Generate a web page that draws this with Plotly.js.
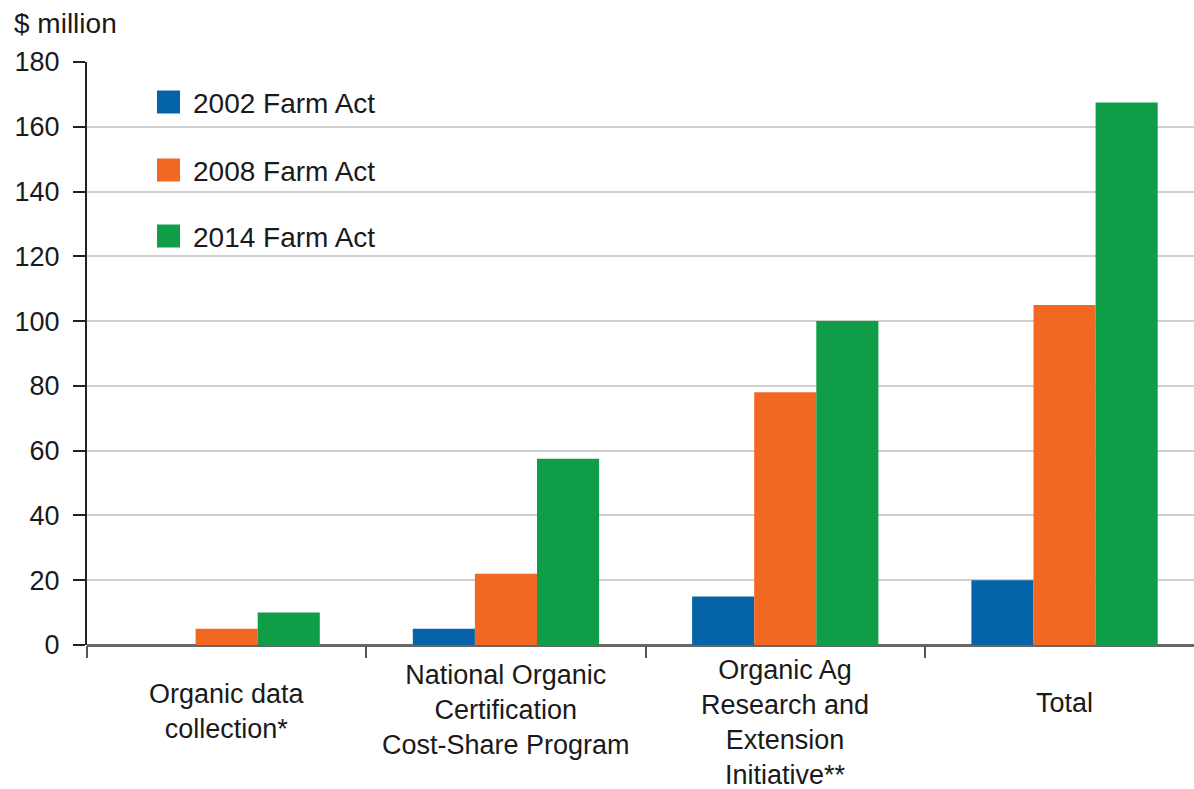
<!DOCTYPE html>
<html>
<head>
<meta charset="utf-8">
<script src="https://cdn.plot.ly/plotly-3.0.1.min.js"></script>
<style>
html,body{margin:0;padding:0;background:#fff;}
#chart{width:1194px;height:789px;}
</style>
</head>
<body>
<div id="chart"></div>
<script>
// ---- data ----
var categories = ["Organic data<br>collection*",
                  "National Organic<br>Certification<br>Cost-Share Program",
                  "Organic Ag<br>Research and<br>Extension<br>Initiative**",
                  "Total"];
var seriesNames = ["2002 Farm Act", "2008 Farm Act", "2014 Farm Act"];
var act2002 = [0, 5, 15, 20];
var act2008 = [5, 22, 78, 105];
var act2014 = [10, 57.5, 100, 167.5];
var yTickVals = [0, 20, 40, 60, 80, 100, 120, 140, 160, 180];
var yTitle = "$ million";

// ---- style / layout ----
var colors = ["#0563a8", "#f26722", "#0f9d48"];
var fontFam = "Liberation Sans, Arial, Helvetica, sans-serif";
var txtColor = "#1a1a1a";
var W = 1194, H = 789;
var mL = 87, mT = 62, mB = 144, mR = 0;
var pw = W - mL - mR, ph = H - mT - mB;
function px2x(px){ return (px - mL) / pw; }
function py2y(py){ return (H - mB - py) / ph; }

var seriesVals = [act2002, act2008, act2014];
var traces = seriesVals.map(function(v, i){
  return {
    type: "bar",
    x: categories,
    y: v,
    name: seriesNames[i],
    marker: {color: colors[i], line: {width: 0}},
    hoverinfo: "y+name",
    showlegend: false
  };
});

var catWidth = 279.3;
var annotations = [];
var shapes = [];

// y-axis title
annotations.push({
  text: yTitle, xref: "paper", yref: "paper",
  x: px2x(12), y: py2y(24), xanchor: "left", yanchor: "middle",
  showarrow: false, font: {family: fontFam, size: 28, color: txtColor}
});

// category labels
var catCenters = [711, 710, 722, 703];
categories.forEach(function(c, k){
  annotations.push({
    text: c, xref: "x", yref: "paper",
    x: k, y: py2y(catCenters[k]), xanchor: "center", yanchor: "middle",
    align: "center", showarrow: false,
    font: {family: fontFam, size: 27, color: txtColor}
  });
});

// legend (manual, large swatches)
var legY = [102, 170, 236];
seriesNames.forEach(function(n, i){
  shapes.push({
    type: "rect", xref: "paper", yref: "paper",
    x0: px2x(157), x1: px2x(180), y0: py2y(legY[i] + 11.5), y1: py2y(legY[i] - 11.5),
    fillcolor: colors[i], line: {width: 0}
  });
  annotations.push({
    text: n, xref: "paper", yref: "paper",
    x: px2x(191), y: py2y(legY[i] + 1), xanchor: "left", yanchor: "middle",
    showarrow: false, font: {family: fontFam, size: 28, color: txtColor}
  });
});

var layout = {
  width: W, height: H,
  margin: {l: mL, r: mR, t: mT, b: mB, pad: 0},
  paper_bgcolor: "#fff", plot_bgcolor: "#fff",
  barmode: "group", bargap: 0.333, bargroupgap: 0,
  showlegend: false,
  font: {family: fontFam, color: txtColor},
  xaxis: {
    type: "category",
    range: [-0.5, -0.5 + pw / catWidth],
    showticklabels: false,
    tickson: "boundaries", ticks: "outside", ticklen: 12, tickwidth: 2, tickcolor: "#555",
    showgrid: false, zeroline: false, showline: false, fixedrange: true
  },
  yaxis: {
    range: [0, 180], tickmode: "array", tickvals: yTickVals,
    ticks: "outside", ticklen: 12, tickwidth: 2, tickcolor: "#222",
    showline: true, linecolor: "#222", linewidth: 2,
    showgrid: true, gridcolor: "#cfcfcf", gridwidth: 2,
    zeroline: true, zerolinecolor: "#666", zerolinewidth: 3,
    tickfont: {family: fontFam, size: 27, color: txtColor},
    ticklabelstandoff: 8, fixedrange: true
  },
  shapes: shapes,
  annotations: annotations
};

Plotly.newPlot("chart", traces, layout, {displayModeBar: false, staticPlot: true});
</script>
</body>
</html>
